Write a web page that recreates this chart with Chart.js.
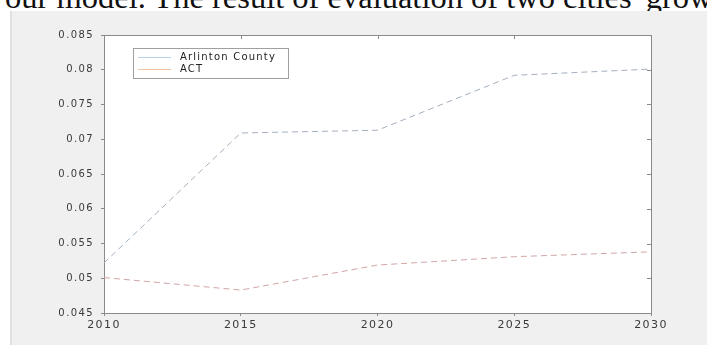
<!DOCTYPE html>
<html>
<head>
<meta charset="utf-8">
<script src="https://cdn.jsdelivr.net/npm/chart.js@4.4.1/dist/chart.umd.min.js"></script>
<style>
  html, body { margin: 0; padding: 0; background: #fff; overflow: hidden; }
  #wrap { position: relative; width: 707px; height: 345px; overflow: hidden; }
  #caption {
    position: absolute; left: -41px; top: -21px; white-space: nowrap;
    font-family: "Liberation Serif", "Times New Roman", serif; font-size: 32.5px; color: #111;
    line-height: 36px;
  }
  #panel {
    position: absolute; left: 10px; top: 11px; right: 0; bottom: 0;
    background: #f0f0f0; border-left: 2px solid #e0e0e0;
  }
  #myChart { position: absolute; left: 0; top: 0; }
</style>
</head>
<body>
<div id="wrap">
  <div id="caption">for our model. The result of evaluation of two cities' growth</div>
  <div id="panel"></div>
  <canvas id="myChart" width="707" height="345"></canvas>
</div>
<script>
// Dữ liệu
const years = [2010, 2015, 2020, 2025, 2030];
const arlinton = [0.0522, 0.0709, 0.0713, 0.0792, 0.0801];
const act = [0.0501, 0.0483, 0.0519, 0.0531, 0.0538];
const seriesNames = ['Arlinton County', 'ACT'];

// Chữ trong ảnh gốc bị kéo giãn ngang -> dùng DejaVu + giãn chữ
const fontFamily = '"DejaVu Sans", "Liberation Sans", Arial, sans-serif';

// Nền trắng cho vùng vẽ + khung trên/phải
const framePlugin = {
    id: 'frame',
    beforeDraw(chart) {
        const a = chart.chartArea, c = chart.ctx;
        c.letterSpacing = '1.4px';
        c.save();
        c.fillStyle = '#ffffff';
        c.fillRect(a.left, a.top, a.right - a.left, a.bottom - a.top);
        c.restore();
    },
    afterDraw(chart) {
        const a = chart.chartArea, c = chart.ctx;
        c.save();
        c.strokeStyle = '#8a8a8a';
        c.lineWidth = 1;
        c.beginPath();
        c.moveTo(a.left, a.top + 0.5);
        c.lineTo(a.right + 0.5, a.top + 0.5);
        c.lineTo(a.right + 0.5, a.bottom);
        c.stroke();
        // vạch chia phía trong ở trục phải và trục trên
        const xs = chart.scales.x, ys = chart.scales.y;
        c.beginPath();
        ys.ticks.forEach(t => {
            const py = Math.round(ys.getPixelForValue(t.value)) + 0.5;
            c.moveTo(a.right, py); c.lineTo(a.right - 4, py);
        });
        xs.ticks.forEach(t => {
            const px = Math.round(xs.getPixelForValue(t.value)) + 0.5;
            c.moveTo(px, a.top); c.lineTo(px, a.top + 4);
        });
        c.stroke();
        c.restore();
    }
};

// Chú thích kiểu MATLAB bên trong vùng vẽ
const legendColors = ['#b8d2ec', '#f2c6a4'];
const boxLegend = {
    id: 'boxLegend',
    afterDraw(chart) {
        const c = chart.ctx;
        const x0 = 133, y0 = 48, w = 155, h = 30;
        c.save();
        c.fillStyle = '#ffffff';
        c.fillRect(x0, y0, w, h);
        c.strokeStyle = '#a0a0a0';
        c.lineWidth = 1;
        c.strokeRect(x0 + 0.5, y0 + 0.5, w, h);
        c.font = '10px ' + fontFamily;
        c.letterSpacing = '1.2px';
        c.textBaseline = 'middle';
        seriesNames.forEach((name, i) => {
            const ly = y0 + 9 + i * 12 + 0.5;
            c.strokeStyle = legendColors[i];
            c.beginPath();
            c.moveTo(x0 + 5, ly); c.lineTo(x0 + 38, ly);
            c.stroke();
            c.fillStyle = '#222';
            c.fillText(name, x0 + 47, ly);
        });
        c.restore();
    }
};

const ctx = document.getElementById('myChart').getContext('2d');
const chart = new Chart(ctx, {
    type: 'line',
    data: {
        datasets: [{
            label: seriesNames[0],
            data: years.map((yr, i) => ({ x: yr, y: arlinton[i] })),
            borderColor: '#a4b0c0',
            borderWidth: 1,
            borderDash: [6, 4],
            pointRadius: 0,
            tension: 0,
            fill: false
        }, {
            label: seriesNames[1],
            data: years.map((yr, i) => ({ x: yr, y: act[i] })),
            borderColor: '#d2a6a6',
            borderWidth: 1,
            borderDash: [6, 4],
            pointRadius: 0,
            tension: 0,
            fill: false
        }]
    },
    options: {
        responsive: false,
        animation: false,
        layout: { padding: { top: 35, right: 56, left: 0, bottom: 0 } },
        plugins: {
            legend: { display: false },
            tooltip: { enabled: false }
        },
        scales: {
            x: {
                type: 'linear',
                min: 2010,
                max: 2030,
                ticks: {
                    stepSize: 5,
                    color: '#3a3a3a',
                    font: { family: fontFamily, size: 11 },
                    padding: 3,
                    maxRotation: 0,
                    callback: v => String(v)
                },
                grid: { drawOnChartArea: false, tickLength: 3, color: '#8a8a8a' },
                border: { color: '#8a8a8a' },
                afterFit: s => { s.height = 32; }
            },
            y: {
                min: 0.045,
                max: 0.085,
                ticks: {
                    stepSize: 0.005,
                    color: '#3a3a3a',
                    font: { family: fontFamily, size: 10 },
                    padding: 7,
                    callback: v => String(parseFloat(v.toFixed(3)))
                },
                grid: { drawOnChartArea: false, tickLength: 3, color: '#8a8a8a' },
                border: { color: '#8a8a8a' },
                afterFit: s => { s.width = 104; }
            }
        }
    },
    plugins: [framePlugin, boxLegend]
});
</script>
</body>
</html>
